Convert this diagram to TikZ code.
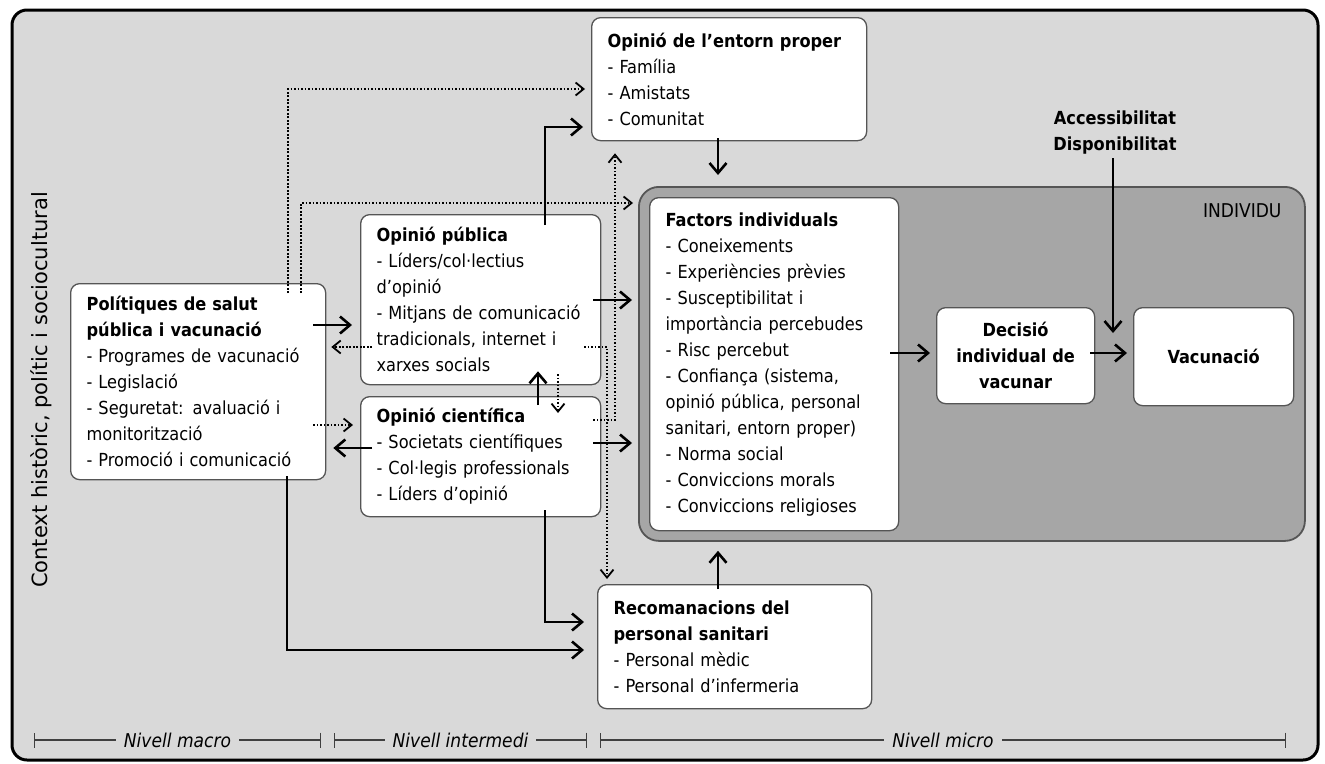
\documentclass[tikz,border=0pt]{standalone}
\usepackage{fontspec}
\setmainfont{DejaVu Sans Condensed}
\newfontfamily\widefont{DejaVu Sans}
\usetikzlibrary{arrows.meta}
\definecolor{bggray}{HTML}{D9D9D9}
\definecolor{indgray}{HTML}{A6A6A6}
\definecolor{edgegray}{HTML}{555555}
\begin{document}
\begin{tikzpicture}[x=1pt,y=-1pt,
  box/.style={draw=edgegray, line width=1.3pt, fill=white, rounded corners=9pt, anchor=north west,
    align=left, inner xsep=16pt, inner ysep=0pt, font=\fontsize{18}{26}\selectfont},
  arr/.style={line width=2.6pt, -{Straight Barb[length=10pt,width=17pt]}},
  dotarr/.style={line width=1.8pt, dash pattern=on 1.6pt off 1.9pt, -{Straight Barb[length=8pt,width=13pt]}},
  level/.style={draw=black!75, line width=1.3pt, {Bar[width=15pt]}-{Bar[width=15pt]}}
]
\useasboundingbox (0,0) rectangle (1325,763);
% context frame
\draw[line width=3pt, fill=bggray, rounded corners=15pt] (12,10) rectangle (1318,760);
\node[rotate=90, font=\widefont\fontsize{21}{24}\selectfont] (ctx) at (41,390) {Context històric, polític i sociocultural};
% individu
\node[draw=edgegray, line width=1.8pt, fill=indgray, rounded corners=20pt, anchor=north west,
  minimum width=666pt, minimum height=354pt] (ind) at (638,186) {};
\node[anchor=north east, font=\fontsize{19}{22}\selectfont] (indlab) at (1285,200) {INDIVIDU};
% boxes
\node[box, text width=243pt, minimum height=123pt] (ent) at (591,17)
  {\textbf{Opinió de l’entorn proper}\\- Família\\- Amistats\\- Comunitat};
\node[box, text width=223pt, minimum height=196pt] (pol) at (70,283)
  {\textbf{Polítiques de salut}\\\textbf{pública i vacunació}\\- Programes de vacunació\\- Legislació\\
   - Seguretat: avaluació i\\monitorització\\- Promoció i comunicació};
\node[box, text width=208pt, minimum height=170pt] (pub) at (360,214)
  {\textbf{Opinió pública}\\- Líders/col·lectius\\d’opinió\\- Mitjans de comunicació\\tradicionals, internet i\\xarxes socials};
\node[box, text width=208pt, minimum height=120pt] (cie) at (360,396)
  {\textbf{Opinió científica}\\- Societats científiques\\- Col·legis professionals\\- Líders d’opinió};
\node[box, text width=217pt, minimum height=333pt] (fac) at (649,197)
  {\textbf{Factors individuals}\\- Coneixements\\- Experiències prèvies\\- Susceptibilitat i\\importància percebudes\\
   - Risc percebut\\- Confiança (sistema,\\opinió pública, personal\\sanitari, entorn proper)\\- Norma social\\
   - Conviccions morals\\- Conviccions religioses};
\node[box, text width=140pt, inner xsep=9pt, align=center, minimum height=96pt] (dec) at (936,307)
  {\textbf{Decisió}\\\textbf{individual de}\\\textbf{vacunar}};
\node[box, text width=142pt, inner xsep=9pt, align=center, minimum height=98pt] (vac) at (1133,307)
  {\textbf{Vacunació}};
\node[box, text width=242pt, minimum height=124pt] (rec) at (597,584)
  {\textbf{Recomanacions del}\\\textbf{personal sanitari}\\- Personal mèdic\\- Personal d’infermeria};
\node[align=center, font=\bfseries\fontsize{18}{26}\selectfont] (acc) at (1115,133) {Accessibilitat\\Disponibilitat};
\coordinate (accend) at (1113,333);
% dotted connectors
\draw[dotarr, shorten <=-10pt, shorten >=6pt] (pol.north -| 288,0) |- (ent.west |- 0,89);
\draw[dotarr, shorten <=-10pt, shorten >=5pt] (pol.north -| 301,0) |- (ind.west |- 0,203);
\draw[dotarr, shorten <=-17pt, shorten >=5pt] (pub.east |- 0,347) -| (rec.north -| 607,0);
\draw[dotarr, shorten <=-8pt, shorten >=12pt] (cie.east |- 0,420) -| (ent.south -| 615,0);
\draw[dotarr, shorten <=-12pt, shorten >=5pt] (pub.west |- 0,347) -- (pol.east |- 0,347);
\draw[dotarr, shorten <=-13pt, shorten >=7pt] (pol.east |- 0,425) -- (cie.west |- 0,425);
\draw[dotarr, shorten <=-11pt, shorten >=-17pt] (pub.south -| 558,0) -- (cie.north -| 558,0);
% solid connectors
\draw[arr, shorten <=-9pt, shorten >=-14pt] (cie.north -| 538,0) -- (pub.south -| 538,0);
\draw[arr, shorten <=-13pt, shorten >=8pt] (pol.east |- 0,325) -- (pub.west |- 0,325);
\draw[arr, shorten <=-12pt, shorten >=7pt] (cie.west |- 0,448) -- (pol.east |- 0,448);
\draw[arr, shorten <=-11pt, shorten >=8pt] (pub.north -| 545,0) |- (ent.west |- 0,127);
\draw[arr, shorten <=-8pt, shorten >=6pt] (pub.east |- 0,300) -- (ind.west |- 0,300);
\draw[arr, shorten <=-8pt, shorten >=6pt] (cie.east |- 0,443) -- (ind.west |- 0,443);
\draw[arr, shorten <=-7pt, shorten >=13pt] (cie.south -| 545,0) |- (rec.west |- 0,622);
\draw[arr, shorten <=-4pt, shorten >=13pt] (pol.south -| 287,0) |- (rec.west |- 0,650);
\draw[arr, shorten <=-3pt, shorten >=11pt] (ent.south -| 718,0) -- (ind.north -| 718,0);
\draw[arr, shorten <=-5pt, shorten >=9pt] (rec.north -| 718,0) -- (ind.south -| 718,0);
\draw[arr, shorten <=-9pt, shorten >=6pt] (fac.east |- 0,353) -- (dec.west |- 0,353);
\draw[arr, shorten <=-5pt, shorten >=6pt] (dec.east |- 0,353) -- (vac.west |- 0,353);
\draw[arr] (acc.south -| 1113,0) -- (accend);
% levels
\foreach \a/\b/\lvl [count=\i] in {34/321/Nivell macro, 334/587/Nivell intermedi, 600/1286/Nivell micro}
  \draw[level] (\a,740) -- (\b,740) node[midway, fill=bggray, inner xsep=8pt, text=black,
    font=\itshape\fontsize{19}{20}\selectfont] (lvl\i) {\lvl};
\end{tikzpicture}
\end{document}
